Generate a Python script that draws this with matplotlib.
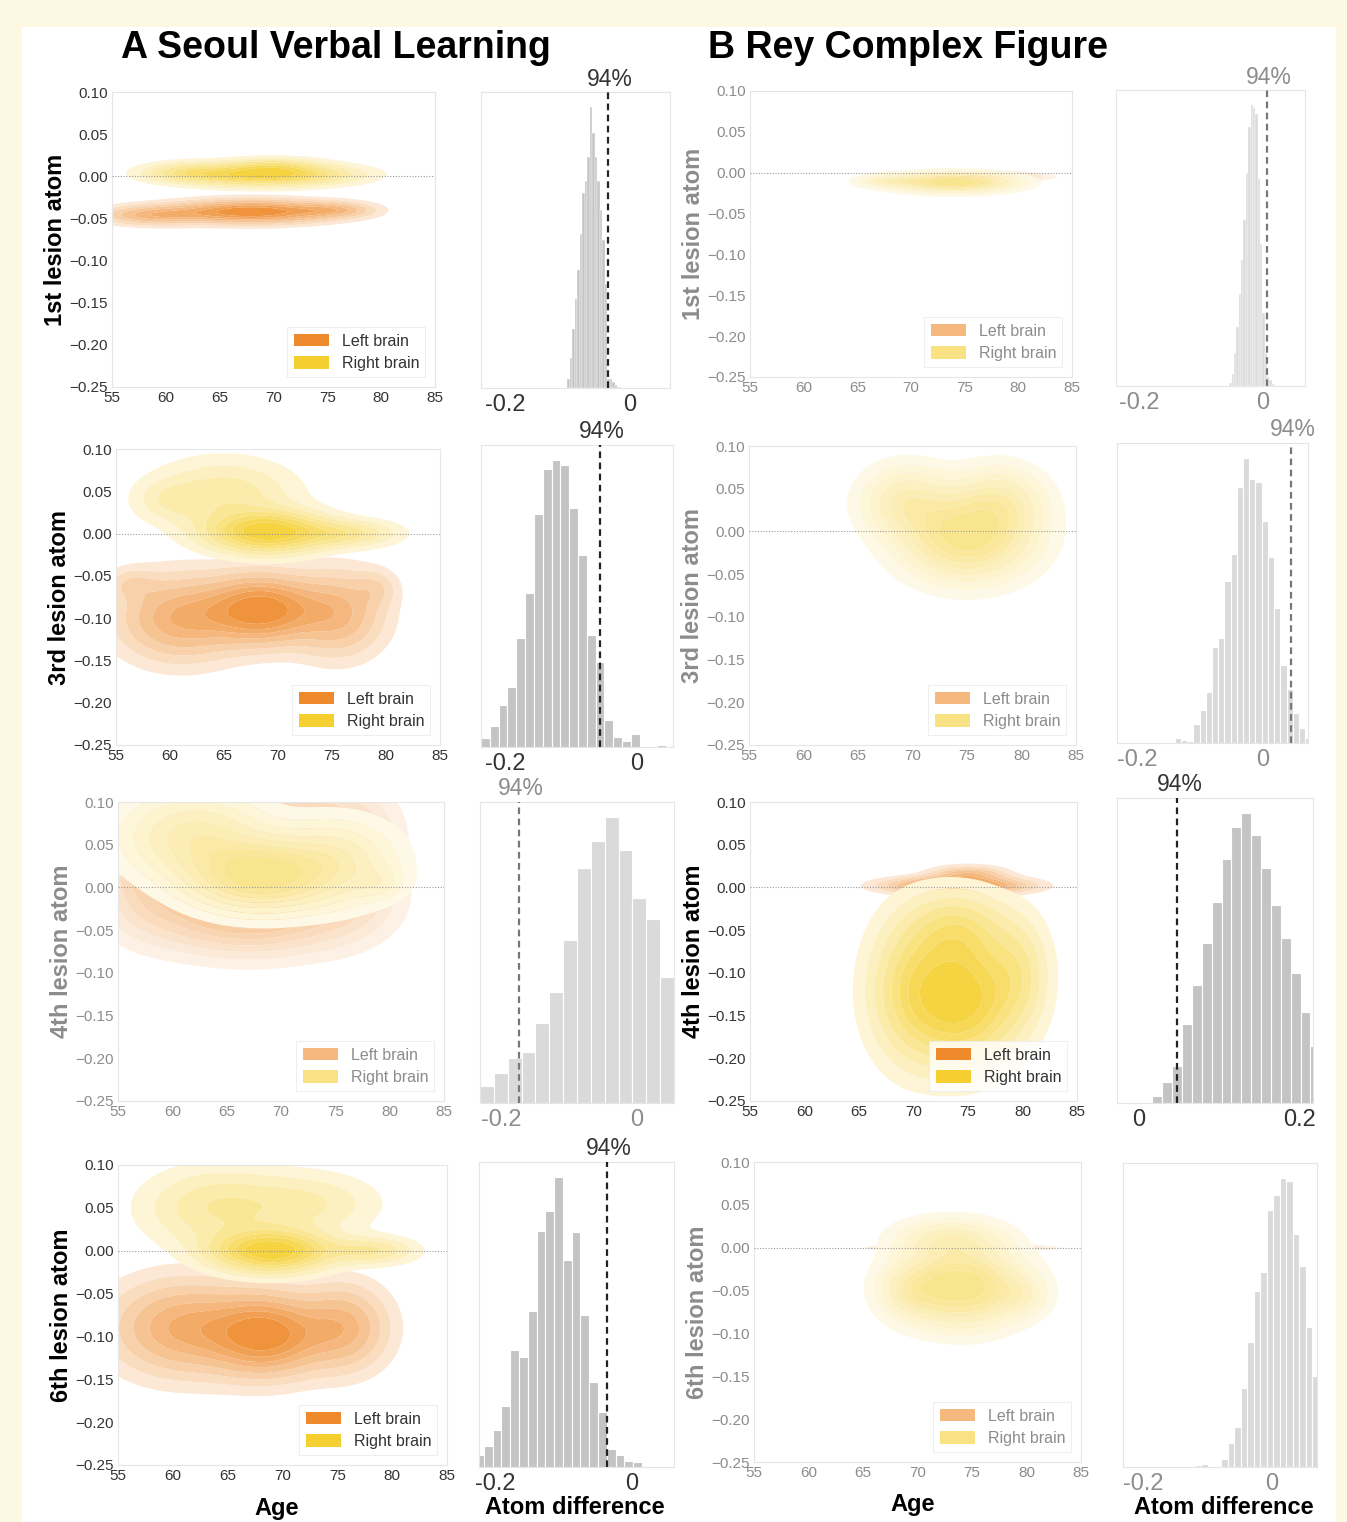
import numpy as np
import matplotlib
matplotlib.use("Agg")
import matplotlib.pyplot as plt
from matplotlib.patches import Patch, Rectangle
from matplotlib.colors import to_rgb
from matplotlib.ticker import FuncFormatter
import matplotlib.transforms as mtransforms

plt.rcParams['font.family'] = ['Liberation Sans', 'DejaVu Sans']

W, H = 1347, 1522

# ---------------- data ----------------
row_labels = ['1st lesion atom', '3rd lesion atom', '4th lesion atom', '6th lesion atom']
age_ticks = [55, 60, 65, 70, 75, 80, 85]
atom_ticks = [-0.25, -0.20, -0.15, -0.10, -0.05, 0.00, 0.05, 0.10]

# density blobs per group: (age, atom, sd_age, sd_atom, weight)
svlt_left = [
    [(68, -0.042, 4.3, 0.008, 1.0), (59, -0.046, 3.0, 0.007, 0.45), (75.5, -0.040, 2.3, 0.006, 0.35)],
    [(68.5, -0.090, 3.2, 0.024, 1.0), (61, -0.100, 3.5, 0.030, 0.55), (75.5, -0.095, 2.6, 0.030, 0.45),
     (79, -0.065, 1.3, 0.014, 0.15), (56.5, -0.060, 1.5, 0.012, 0.15)],
    [(67, -0.020, 5.5, 0.030, 1.0), (58, 0.030, 2.5, 0.040, 0.45), (76, 0.030, 2.5, 0.040, 0.5),
     (69, 0.080, 5.0, 0.030, 0.4)],
    [(68.5, -0.098, 3.2, 0.028, 1.0), (61, -0.090, 4.0, 0.033, 0.6), (75.5, -0.090, 2.5, 0.030, 0.5)],
]
svlt_right = [
    [(69, 0.002, 4.6, 0.008, 1.0), (70, 0.012, 2.5, 0.006, 0.3), (62, 0.005, 2.5, 0.007, 0.3)],
    [(69, 0.002, 3.3, 0.015, 1.0), (65, 0.045, 4.0, 0.026, 0.27), (76, 0.000, 3.0, 0.010, 0.35),
     (60, 0.040, 2.0, 0.015, 0.13)],
    [(68, 0.015, 4.0, 0.025, 1.0), (62, 0.060, 4.0, 0.030, 0.5), (75, 0.030, 3.5, 0.030, 0.4),
     (79, 0.005, 1.5, 0.012, 0.15)],
    [(69, 0.000, 3.3, 0.015, 1.0), (64, 0.050, 4.0, 0.028, 0.28), (72, 0.055, 4.0, 0.022, 0.2),
     (78, 0.000, 2.5, 0.010, 0.3)],
]
rcf_left = [
    [(76, -0.005, 3.0, 0.003, 1.0)],
    [(73, 0.000, 3.0, 0.0012, 1.0)],
    [(74, 0.002, 3.5, 0.006, 1.0), (75, 0.015, 2.0, 0.006, 0.4)],
    [(74, 0.000, 3.5, 0.002, 1.0)],
]
rcf_right = [
    [(74, -0.012, 3.2, 0.007, 1.0), (68, -0.010, 1.8, 0.005, 0.3)],
    [(75, -0.005, 3.5, 0.030, 1.0), (69.5, 0.035, 2.5, 0.025, 0.45), (78, 0.035, 2.5, 0.025, 0.4)],
    [(74.5, -0.130, 3.0, 0.045, 1.0), (70, -0.120, 2.5, 0.050, 0.5), (79.5, -0.100, 1.8, 0.040, 0.3),
     (74, -0.050, 2.8, 0.028, 0.4)],
    [(74, -0.045, 3.3, 0.027, 1.0), (69.5, -0.050, 1.8, 0.020, 0.3), (79.5, -0.055, 1.5, 0.015, 0.2),
     (73, 0.010, 3.0, 0.015, 0.35)],
]

# posterior of the atom difference: first bin edge, bin width, bar heights, 94% bound
svlt_bin_start = [-0.100, -0.237, -0.232, -0.229]
svlt_bin_width = [0.004, 0.01341, 0.0205, 0.01284]
svlt_heights = [
    [0.03, 0.10, 0.20, 0.30, 0.40, 0.52, 0.66, 0.70, 0.78, 0.95, 0.86, 0.78, 0.70, 0.60, 0.50, 0.35,
     0.03, 0.03, 0.02, 0.01, 0.005],
    [0.03, 0.07, 0.14, 0.20, 0.36, 0.51, 0.77, 0.92, 0.95, 0.935, 0.79, 0.635, 0.37, 0.28, 0.09,
     0.033, 0.02, 0.044, 0.0, 0.003, 0.005],
    [0.057, 0.10, 0.15, 0.17, 0.265, 0.37, 0.54, 0.78, 0.87, 0.95, 0.84, 0.68, 0.61, 0.42],
    [0.04, 0.07, 0.12, 0.20, 0.385, 0.36, 0.51, 0.775, 0.84, 0.95, 0.68, 0.77, 0.50, 0.28, 0.18,
     0.06, 0.04, 0.02, 0.015],
]
svlt_hdi = [-0.035, -0.0557, -0.174, -0.0365]
svlt_sig = [True, True, False, True]

rcf_bin_start = [-0.054, -0.1497, 0.0167, -0.1194]
rcf_bin_width = [0.0038, 0.00989, 0.01229, 0.01013]
rcf_heights = [
    [0.01, 0.04, 0.11, 0.20, 0.31, 0.425, 0.56, 0.72, 0.876, 0.95, 0.94, 0.92, 0.70, 0.48, 0.245,
     0.11, 0.03, 0.02, 0.008, 0.005],
    [0.003, 0.018, 0.011, 0.007, 0.062, 0.11, 0.17, 0.32, 0.35, 0.54, 0.63, 0.855, 0.95, 0.88, 0.87,
     0.74, 0.62, 0.45, 0.26, 0.18, 0.10, 0.05, 0.018],
    [0.022, 0.068, 0.12, 0.26, 0.386, 0.525, 0.66, 0.80, 0.904, 0.95, 0.88, 0.77, 0.65, 0.54, 0.426,
     0.30, 0.186],
    [0.005, 0.009, 0.004, 0.0, 0.027, 0.08, 0.13, 0.26, 0.41, 0.58, 0.64, 0.846, 0.895, 0.95, 0.94,
     0.766, 0.66, 0.46, 0.30],
]
rcf_hdi = [0.0065, 0.046, 0.0473, None]
rcf_sig = [False, False, True, False]

# ---------------- layout (pixels) ----------------
svlt_kde_box = [(112, 92, 435, 387), (116, 449, 440, 745), (118, 802, 444, 1101), (118, 1165, 447, 1465)]
svlt_hist_box = [(481, 92, 670, 388), (481, 445, 673, 747), (480, 802, 674, 1103), (479, 1162, 674, 1467)]
rcf_kde_box = [(750, 91, 1072, 377), (749, 446, 1076, 745), (750, 802, 1077, 1101), (754, 1162, 1081, 1462)]
rcf_hist_box = [(1116, 90, 1305, 386), (1117, 443, 1308, 743), (1117, 798, 1313, 1103), (1123, 1163, 1317, 1467)]
svlt_hist_xlim = [(-0.238, 0.064), (-0.237, 0.055), (-0.232, 0.055), (-0.2234, 0.062)]
rcf_hist_xlim = [(-0.238, 0.0686), (-0.2317, 0.0724), (-0.0274, 0.2166), (-0.231, 0.070)]

ORANGE = '#ee8a2b'
YELLOW = '#f5cf30'
LEVEL_FRACS = np.array([0.04, 0.10, 0.18, 0.28, 0.40, 0.52, 0.65, 0.80, 1.01])

age_grid = np.linspace(50, 90, 260)
atom_grid = np.linspace(-0.32, 0.16, 260)
AG, AT = np.meshgrid(age_grid, atom_grid)


def px_axes(fig, box):
    x0, y0, x1, y1 = box
    return fig.add_axes([x0 / W, 1 - y1 / H, (x1 - x0) / W, (y1 - y0) / H])


def blob_density(comps):
    z = np.zeros_like(AG)
    for mx, my, sx, sy, w in comps:
        z += w * np.exp(-0.5 * (((AG - mx) / sx) ** 2 + ((AT - my) / sy) ** 2))
    return z


def fade(color, k):
    c = np.array(to_rgb(color))
    return tuple(1 - k + k * c)


def ramp(color, n, strength):
    return [fade(color, a * strength) for a in np.linspace(0.2, 0.92, n)]


def style_box(ax):
    for s in ax.spines.values():
        s.set_color('#e6e6e6')
        s.set_linewidth(0.8)
    ax.tick_params(length=0)


def kde_panel(ax, left, right, label, sig):
    txt = '#333333' if sig else '#8c8c8c'
    strength = 1.0 if sig else 0.6
    for comps, col in ((left, ORANGE), (right, YELLOW)):
        z = blob_density(comps)
        ax.contourf(AG, AT, z, levels=LEVEL_FRACS * z.max(),
                    colors=ramp(col, len(LEVEL_FRACS) - 1, strength), zorder=1, antialiased=True)
    ax.axhline(0, color='#9a9a9a', lw=0.8, ls=(0, (1, 1.5)), zorder=3)
    ax.set_xlim(55, 85)
    ax.set_ylim(-0.25, 0.10)
    ax.set_xticks(age_ticks)
    ax.set_yticks(atom_ticks)
    ax.yaxis.set_major_formatter(FuncFormatter(lambda v, p: f"{v:.2f}".replace('-', '\u2212')))
    ax.tick_params(labelsize=11, labelcolor=txt, pad=3)
    style_box(ax)
    ax.set_ylabel(label, fontsize=17, fontweight='bold', color='black' if sig else '#8c8c8c', labelpad=2)
    oc, yc = (ORANGE, YELLOW) if sig else (fade(ORANGE, 0.6), fade(YELLOW, 0.6))
    leg = ax.legend(handles=[Patch(facecolor=oc, label='Left brain'), Patch(facecolor=yc, label='Right brain')],
                    loc='lower right', fontsize=11.5, frameon=True, fancybox=False, handlelength=2.2,
                    handleheight=0.8, borderaxespad=0.6, labelspacing=0.45)
    leg.get_frame().set_edgecolor('#ececec')
    leg.get_frame().set_linewidth(0.8)
    for t in leg.get_texts():
        t.set_color(txt)


def hist_panel(ax, start, width, heights, hdi, xlim, sig, ticks, ticklabels):
    txt = '#333333' if sig else '#8c8c8c'
    edges = start + width * np.arange(len(heights))
    ax.bar(edges, heights, width=width, align='edge', color='#c4c4c4' if sig else '#dadada',
           edgecolor='white', linewidth=0.3 if width < 0.006 else 0.8, zorder=1)
    ax.set_xlim(*xlim)
    ax.set_ylim(0, 1)
    ax.set_yticks([])
    ax.set_xticks(ticks)
    ax.set_xticklabels(ticklabels)
    ax.tick_params(labelsize=17, labelcolor=txt, pad=4)
    style_box(ax)
    if hdi is not None:
        ax.axvline(hdi, color='#222222' if sig else '#777777', lw=1.6, ls=(0, (3, 2)), zorder=3)
        tr = mtransforms.blended_transform_factory(ax.transData, ax.transAxes)
        ax.text(hdi + 0.003, 1.005, '94%', transform=tr, ha='center', va='bottom', fontsize=16.5,
                color=txt)


fig = plt.figure(figsize=(W / 100, H / 100), dpi=100)
fig.patch.set_facecolor('#fdf8e2')
bg = Rectangle((22 / W, 0), (1336 - 22) / W, (H - 27) / H, transform=fig.transFigure,
               facecolor='white', edgecolor='none', zorder=-10)
fig.patches.append(bg)

for i in range(4):
    ax = px_axes(fig, svlt_kde_box[i])
    kde_panel(ax, svlt_left[i], svlt_right[i], row_labels[i], svlt_sig[i])
    ax = px_axes(fig, svlt_hist_box[i])
    hist_panel(ax, svlt_bin_start[i], svlt_bin_width[i], svlt_heights[i], svlt_hdi[i],
               svlt_hist_xlim[i], svlt_sig[i], [-0.2, 0], ['-0.2', '0'])

    ax = px_axes(fig, rcf_kde_box[i])
    kde_panel(ax, rcf_left[i], rcf_right[i], row_labels[i], rcf_sig[i])
    ax = px_axes(fig, rcf_hist_box[i])
    if i == 2:
        tk, tl = [0, 0.2], ['0', '0.2']
    else:
        tk, tl = [-0.2, 0], ['-0.2', '0']
    hist_panel(ax, rcf_bin_start[i], rcf_bin_width[i], rcf_heights[i], rcf_hdi[i],
               rcf_hist_xlim[i], rcf_sig[i], tk, tl)

fig.text(336 / W, 1 - 48 / H, 'A Seoul Verbal Learning', ha='center', va='center', fontsize=27,
         fontweight='bold')
fig.text(908 / W, 1 - 48 / H, 'B Rey Complex Figure', ha='center', va='center', fontsize=27,
         fontweight='bold')
for x, y, s in [(277, 1508, 'Age'), (575, 1508, 'Atom difference'),
                (913, 1505, 'Age'), (1224, 1508, 'Atom difference')]:
    fig.text(x / W, 1 - y / H, s, ha='center', va='center', fontsize=17, fontweight='bold')

fig.savefig('out.png', dpi=100, facecolor=fig.get_facecolor())
